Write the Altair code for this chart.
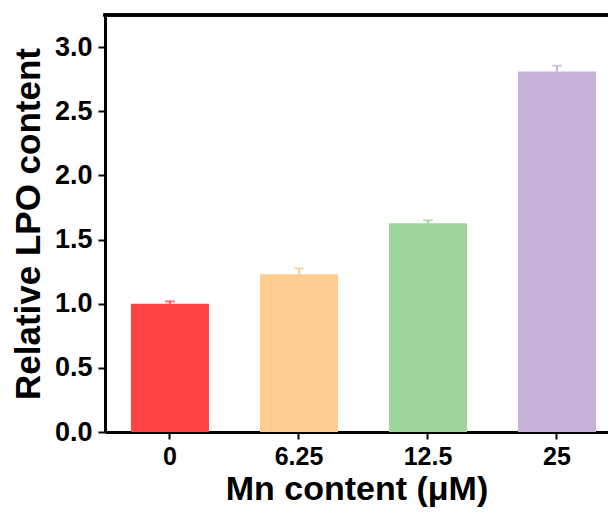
import altair as alt
import pandas as pd

categories = ["0", "6.25", "12.5", "25"]
means = [1.00, 1.23, 1.627, 2.81]
errors = [0.018, 0.045, 0.023, 0.045]
colors = ["#FF4343", "#FFCC92", "#9DD59B", "#C5B3D7"]

df = pd.DataFrame({"cat": categories, "mean": means, "err": errors})
df["upper"] = df["mean"] + df["err"]

FONT = "Liberation Sans"
W, H = 503, 417

xscale = alt.Scale(domain=categories, paddingInner=0.395, paddingOuter=0.147, align=0.684)
yscale = alt.Scale(domain=[0, 3.25], nice=False, zero=True)
cscale = alt.Scale(domain=categories, range=colors)

xenc = alt.X("cat:N", scale=xscale, sort=categories,
             axis=alt.Axis(title="Mn content (\u03bcM)", labelAngle=0,
                           labelFont=FONT, labelFontSize=25, labelFontWeight="bold",
                           labelColor="black", labelPadding=5,
                           titleFont=FONT, titleFontSize=34, titleFontWeight="bold",
                           titleColor="black", titlePadding=3,
                           domainColor="black", domainWidth=3,
                           tickColor="black", tickWidth=2, tickSize=7))

yaxis = alt.Axis(title="Relative LPO content", values=[0, 0.5, 1.0, 1.5, 2.0, 2.5, 3.0],
                 format=".1f", grid=False,
                 labelFont=FONT, labelFontSize=27, labelFontWeight="bold",
                 labelColor="black", labelPadding=6,
                 titleFont=FONT, titleFontSize=35, titleFontWeight="bold",
                 titleColor="black", titlePadding=8,
                 domainColor="black", domainWidth=3,
                 tickColor="black", tickWidth=2, tickSize=7)

bars = alt.Chart(df).mark_bar().encode(
    x=xenc,
    y=alt.Y("mean:Q", scale=yscale, axis=yaxis),
    color=alt.Color("cat:N", scale=cscale, legend=None),
)

err_line = alt.Chart(df).mark_rule(strokeWidth=2).encode(
    x=alt.X("cat:N", scale=xscale, sort=categories),
    y=alt.Y("mean:Q", scale=yscale),
    y2="upper:Q",
    color=alt.Color("cat:N", scale=cscale, legend=None),
)

err_cap = alt.Chart(df).mark_tick(size=10, thickness=2).encode(
    x=alt.X("cat:N", scale=xscale, sort=categories),
    y=alt.Y("upper:Q", scale=yscale),
    color=alt.Color("cat:N", scale=cscale, legend=None),
)

top_line = alt.Chart(df).mark_rule(color="black", strokeWidth=3).encode(
    x=alt.value(-1.5), x2=alt.value(W + 2), y=alt.value(0)
)

chart = (bars + err_line + err_cap + top_line).properties(
    width=W, height=H,
    autosize=alt.AutoSizeParams(type="none"),
    padding={"left": 97, "top": 7, "right": 0, "bottom": 80},
).configure_view(stroke=None)

chart.save("out.html", embed_options={"renderer": "svg", "actions": False})
